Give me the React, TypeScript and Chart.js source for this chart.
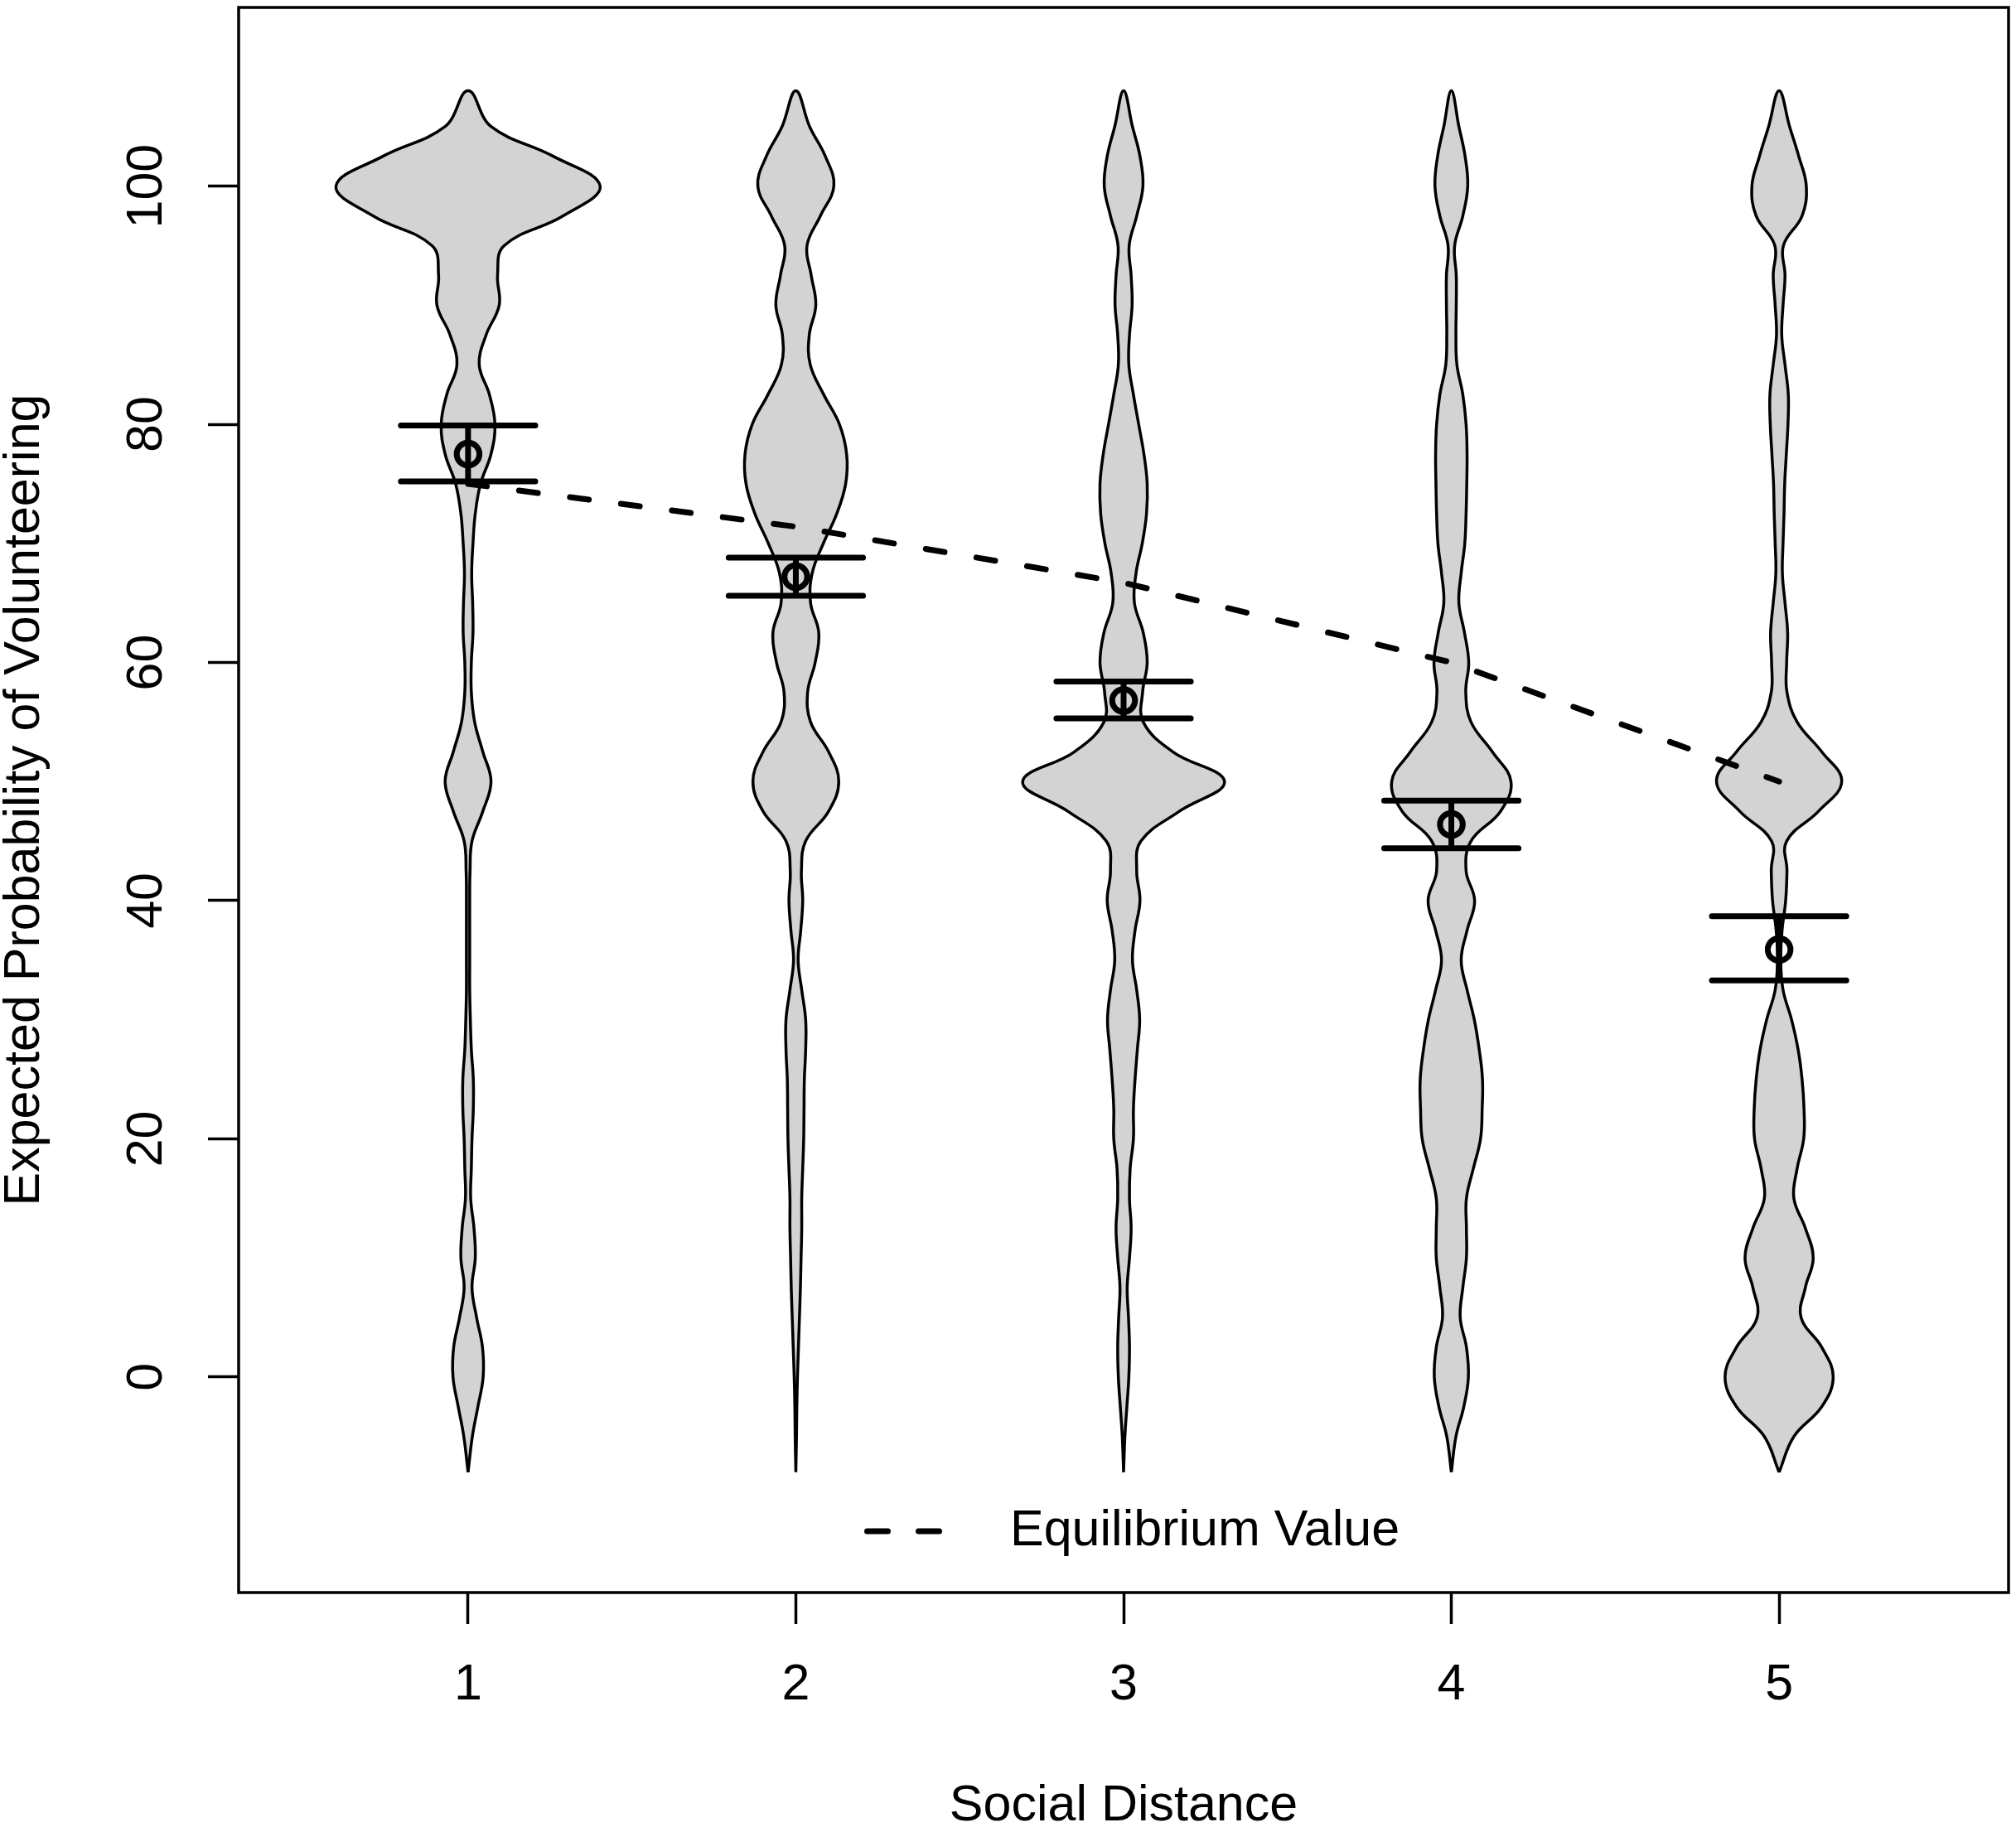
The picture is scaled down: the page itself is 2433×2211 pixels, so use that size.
import { useEffect, useRef } from "react";
import { Chart, registerables } from "chart.js";

Chart.register(...registerables);

const FONT = '"Liberation Sans", Arial, Helvetica, sans-serif';

// groups on the x axis (social distance)
const GROUPS = [1, 2, 3, 4, 5];
const Y_TICKS = [0, 20, 40, 60, 80, 100];

// y levels at which the violin half-widths were read
const LEVELS = [
  -8, -5, -2.5, 0, 2.5, 5, 7.5, 10, 12.5, 15, 17.5, 20, 22.5, 25, 27.5, 30,
  32.5, 35, 37.5, 40, 42.5, 45, 47.5, 50, 52.5, 55, 57.5, 60, 62.5, 65, 67.5,
  70, 72.5, 75, 77.5, 80, 82.5, 85, 87.5, 90, 92.5, 95, 97.5, 100, 102.5, 105,
  108,
];

// violin half-widths (x units) per group, one value per level
const WIDTH_1 = [
  0, 0.013, 0.03, 0.046, 0.044, 0.026, 0.012, 0.022, 0.018, 0.008, 0.01, 0.012,
  0.016, 0.016, 0.01, 0.007, 0.005, 0.005, 0.005, 0.005, 0.006, 0.012, 0.045,
  0.07, 0.045, 0.02, 0.01, 0.01, 0.015, 0.014, 0.011, 0.015, 0.022, 0.038, 0.07,
  0.082, 0.065, 0.034, 0.055, 0.095, 0.09, 0.11, 0.29, 0.403, 0.26, 0.07, 0,
];
const WIDTH_2 = [
  0, 0.002, 0.003, 0.005, 0.008, 0.011, 0.014, 0.016, 0.018, 0.018, 0.021,
  0.024, 0.025, 0.026, 0.03, 0.03, 0.018, 0.007, 0.015, 0.021, 0.017, 0.03, 0.1,
  0.131, 0.1, 0.045, 0.036, 0.059, 0.07, 0.045, 0.05, 0.084, 0.125, 0.152, 0.155,
  0.133, 0.085, 0.044, 0.041, 0.061, 0.047, 0.034, 0.075, 0.116, 0.09, 0.042, 0,
];
const WIDTH_3 = [
  0, 0.004, 0.01, 0.016, 0.018, 0.015, 0.011, 0.018, 0.023, 0.018, 0.02, 0.03,
  0.03, 0.035, 0.042, 0.049, 0.04, 0.027, 0.035, 0.05, 0.04, 0.053, 0.17, 0.308,
  0.15, 0.06, 0.058, 0.072, 0.06, 0.033, 0.038, 0.057, 0.07, 0.072, 0.062, 0.046,
  0.03, 0.016, 0.018, 0.026, 0.023, 0.017, 0.04, 0.059, 0.05, 0.027, 0,
];
const WIDTH_4 = [
  0, 0.014, 0.038, 0.052, 0.046, 0.027, 0.035, 0.046, 0.046, 0.046, 0.067,
  0.089, 0.094, 0.095, 0.085, 0.07, 0.048, 0.03, 0.048, 0.071, 0.045, 0.06, 0.15,
  0.182, 0.125, 0.06, 0.044, 0.053, 0.04, 0.023, 0.03, 0.041, 0.045, 0.047,
  0.048, 0.045, 0.035, 0.017, 0.014, 0.015, 0.015, 0.01, 0.035, 0.05, 0.042,
  0.023, 0,
];
const WIDTH_5 = [
  0, 0.045, 0.13, 0.165, 0.13, 0.067, 0.08, 0.104, 0.08, 0.045, 0.055, 0.075,
  0.076, 0.07, 0.058, 0.038, 0.012, 0.005, 0.009, 0.02, 0.024, 0.023, 0.12,
  0.191, 0.13, 0.055, 0.024, 0.023, 0.026, 0.018, 0.01, 0.012, 0.015, 0.017,
  0.022, 0.027, 0.028, 0.018, 0.008, 0.012, 0.018, 0.013, 0.07, 0.083, 0.06,
  0.032, 0,
];
const WIDTHS = [WIDTH_1, WIDTH_2, WIDTH_3, WIDTH_4, WIDTH_5];

const MEANS = [77.5, 67.2, 56.8, 46.4, 35.9];
const CI_LOW = [75.2, 65.6, 55.3, 44.4, 33.3];
const CI_HIGH = [79.9, 68.8, 58.4, 48.4, 38.7];
const EQUILIBRIUM = [75, 71.4, 66.7, 60, 50];

const CI_HALF = 0.205;

function violinPoints(center: number, widths: number[]) {
  const right = LEVELS.map((y, i) => ({ x: center + widths[i], y }));
  const left = LEVELS.map((y, i) => ({ x: center - widths[i], y })).reverse();
  return [...right, ...left.slice(1)];
}

// box, rotated y labels and the legend, drawn R-style
const framePlugin = {
  id: "frame",
  afterDraw(chart: Chart) {
    const { ctx, chartArea: a, scales } = chart;
    ctx.save();
    ctx.strokeStyle = "#000";
    ctx.lineWidth = 3.5;
    ctx.strokeRect(a.left, a.top, a.right - a.left, a.bottom - a.top);

    ctx.fillStyle = "#000";
    ctx.font = `61px ${FONT}`;
    ctx.textAlign = "center";
    ctx.textBaseline = "middle";
    for (const v of Y_TICKS) {
      const y = scales.y.getPixelForValue(v);
      ctx.save();
      ctx.translate(a.left - 110, y);
      ctx.rotate(-Math.PI / 2);
      ctx.fillText(String(v), 0, 0);
      ctx.restore();
    }

    const cx = (a.left + a.right) / 2;
    const ly = a.bottom - 74;
    ctx.lineWidth = 7;
    ctx.lineCap = "round";
    ctx.setLineDash([25, 37]);
    ctx.beginPath();
    ctx.moveTo(cx - 309.5, ly);
    ctx.lineTo(cx - 222.5, ly);
    ctx.stroke();
    ctx.setLineDash([]);
    ctx.textAlign = "left";
    ctx.fillText("Equilibrium Value", cx - 137, ly);
    ctx.restore();
  },
};

export default function App() {
  const canvasRef = useRef<HTMLCanvasElement>(null);

  useEffect(() => {
    if (!canvasRef.current) return;

    const violins = GROUPS.map((g, i) => ({
      type: "line" as const,
      label: `Group ${g}`,
      data: violinPoints(g, WIDTHS[i]),
      borderColor: "#000",
      borderWidth: 3.5,
      backgroundColor: "#D3D3D3",
      fill: "shape" as const,
      tension: 0.4,
      pointRadius: 0,
      order: 3,
    }));

    const ciBars = GROUPS.flatMap((g, i) => [
      { x: g - CI_HALF, y: CI_HIGH[i] },
      { x: g + CI_HALF, y: CI_HIGH[i] },
      { x: g, y: null },
      { x: g - CI_HALF, y: CI_LOW[i] },
      { x: g + CI_HALF, y: CI_LOW[i] },
      { x: g, y: null },
    ]);
    const ciStems = GROUPS.flatMap((g, i) => [
      { x: g, y: CI_LOW[i] },
      { x: g, y: CI_HIGH[i] },
      { x: g, y: null },
    ]);

    const chart = new Chart(canvasRef.current, {
      type: "line",
      data: {
        datasets: [
          {
            label: "Mean",
            data: GROUPS.map((g, i) => ({ x: g, y: MEANS[i] })),
            showLine: false,
            pointRadius: 13.75,
            pointBorderWidth: 7,
            pointBackgroundColor: "rgba(0,0,0,0)",
            pointBorderColor: "#000",
            order: 0,
          },
          {
            label: "CI",
            data: ciBars,
            borderColor: "#000",
            borderWidth: 7,
            borderCapStyle: "round",
            pointRadius: 0,
            spanGaps: false,
            order: 1,
          },
          {
            label: "CI stem",
            data: ciStems,
            borderColor: "#000",
            borderWidth: 7,
            pointRadius: 0,
            spanGaps: false,
            order: 1,
          },
          {
            label: "Equilibrium Value",
            data: GROUPS.map((g, i) => ({ x: g, y: EQUILIBRIUM[i] })),
            borderColor: "#000",
            borderWidth: 7,
            borderDash: [23, 39],
            borderCapStyle: "round",
            pointRadius: 0,
            tension: 0,
            fill: false,
            order: 2,
          },
          ...violins,
        ] as any,
      },
      options: {
        animation: false,
        responsive: true,
        maintainAspectRatio: false,
        events: [],
        layout: {
          autoPadding: false,
          padding: { top: 9, right: 9, bottom: 0, left: 0 },
        },
        plugins: {
          legend: { display: false },
          tooltip: { enabled: false },
        },
        scales: {
          x: {
            type: "linear",
            min: 0.3,
            max: 5.7,
            afterFit: (s: any) => {
              s.height = 289;
            },
            border: { display: false },
            grid: {
              drawOnChartArea: false,
              drawTicks: true,
              tickLength: 38,
              tickWidth: 3.5,
              tickColor: "#000",
            },
            ticks: {
              stepSize: 1,
              includeBounds: false,
              autoSkip: false,
              maxRotation: 0,
              minRotation: 0,
              padding: 38,
              color: "#000",
              font: { family: FONT, size: 61 },
            },
            title: {
              display: true,
              text: "Social Distance",
              color: "#000",
              font: { family: FONT, size: 61, lineHeight: 1 },
              padding: { top: 0, bottom: 0 },
            },
          },
          y: {
            type: "linear",
            min: -18.1,
            max: 115,
            afterFit: (s: any) => {
              s.width = 288;
            },
            border: { display: false },
            grid: {
              drawOnChartArea: false,
              drawTicks: true,
              tickLength: 37,
              tickWidth: 3.5,
              tickColor: "#000",
            },
            ticks: { stepSize: 20, includeBounds: false, display: false },
            title: {
              display: true,
              text: "Expected Probability of Volunteering",
              color: "#000",
              font: { family: FONT, size: 61, lineHeight: 1 },
              padding: { top: 0, bottom: 0 },
            },
          },
        },
      },
      plugins: [framePlugin],
    });

    return () => {
      chart.destroy();
    };
  }, []);

  return (
    <div
      style={{
        position: "absolute",
        left: 0,
        top: 0,
        width: 2433,
        height: 2211,
        background: "#fff",
      }}
    >
      <canvas ref={canvasRef} />
    </div>
  );
}
